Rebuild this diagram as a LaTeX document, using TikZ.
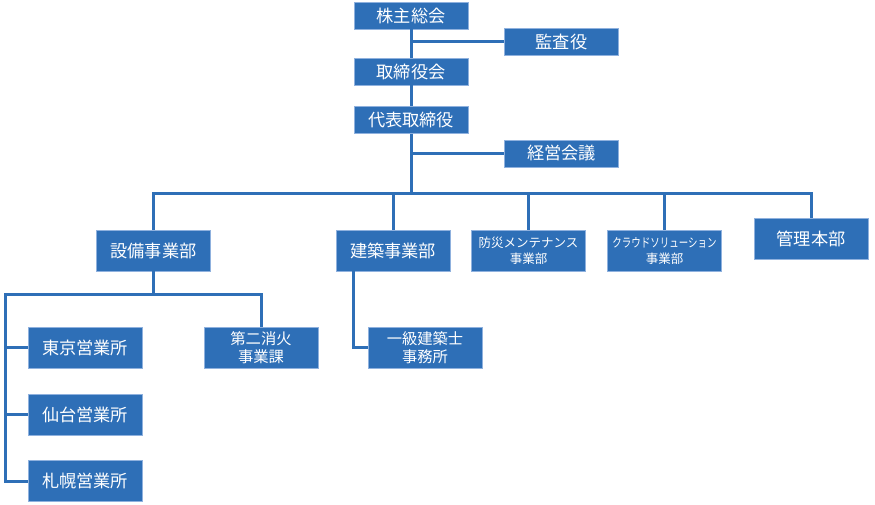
\documentclass[tikz,border=0pt]{standalone}
\usepackage{fontspec}
\usepackage{graphicx}
\newfontfamily\jp{Noto Sans CJK JP}
\definecolor{boxblue}{HTML}{2E6FB7}
\definecolor{edgeblue}{HTML}{8FB1DE}
\begin{document}
\begin{tikzpicture}[x=1pt,y=-1pt,
  orgbox/.style={fill=boxblue,draw=edgeblue,line width=0.8pt,text=white,inner sep=0pt,
    minimum width=114pt,minimum height=41pt,font=\jp\fontsize{17.2}{19}\selectfont,align=center},
  topbox/.style={orgbox,minimum height=27pt},
  smallbox/.style={orgbox,font=\jp\fontsize{12.5}{16}\selectfont},
  midbox/.style={orgbox,font=\jp\fontsize{15.3}{18}\selectfont},
  conn/.style={draw=boxblue,line width=3pt,line join=miter}]
\useasboundingbox (0,0) rectangle (875,505);
\coordinate (bus) at (411,194);
\coordinate (subL) at (5,294);
% nodes
\node[topbox] (kabunushi) at (411,15.5) {株主総会};
\node[topbox] (kansa) at (561.5,41.5) {監査役};
\node[topbox] (torishimariyakukai) at (411,71.5) {取締役会};
\node[topbox] (daihyo) at (411,120) {代表取締役};
\node[topbox] (keiei) at (561.5,153.5) {経営会議};
\node[orgbox] (setsubi) at (153.5,250.5) {設備事業部};
\node[orgbox] (kenchiku) at (393,250.5) {建築事業部};
\node[smallbox] (bousai) at (528.5,250.5) {防災メンテナンス\\事業部};
\node[smallbox] (cloud) at (664.5,250.5) {\scalebox{0.76}[1]{クラウドソリューション}\\事業部};
\node[orgbox] (kanri) at (811,238.5) {管理本部};
\node[orgbox] (tokyo) at (85,347.5) {東京営業所};
\node[midbox] (dainishoka) at (261,347.5) {第二消火\\事業課};
\node[midbox] (ikkyu) at (425,347.5) {一級建築士\\事務所};
\node[orgbox] (sendai) at (85,414.5) {仙台営業所};
\node[orgbox] (sapporo) at (85,481) {札幌営業所};
% connectors
\draw[conn] (kabunushi.south) -- (torishimariyakukai.north);
\draw[conn] (kansa.west -| kabunushi.south) -- (kansa.west);
\draw[conn] (torishimariyakukai.south) -- (daihyo.north);
\draw[conn] (daihyo.south) -- (bus);
\draw[conn] (keiei.west -| daihyo.south) -- (keiei.west);
\draw[conn] (setsubi.north) |- (bus) -| (kanri.north);
\draw[conn] (kenchiku.north) -- (kenchiku.north |- bus);
\draw[conn] (bousai.north) -- (bousai.north |- bus);
\draw[conn] (cloud.north) -- (cloud.north |- bus);
\draw[conn] (setsubi.south) -- (setsubi.south |- subL);
\draw[conn] (sapporo.west) -| (subL) -| (dainishoka.north);
\draw[conn] (tokyo.west) -- (tokyo.west -| subL);
\draw[conn] (sendai.west) -- (sendai.west -| subL);
\draw[conn] ([xshift=-40pt]kenchiku.south) |- (ikkyu.west);
\end{tikzpicture}
\end{document}
